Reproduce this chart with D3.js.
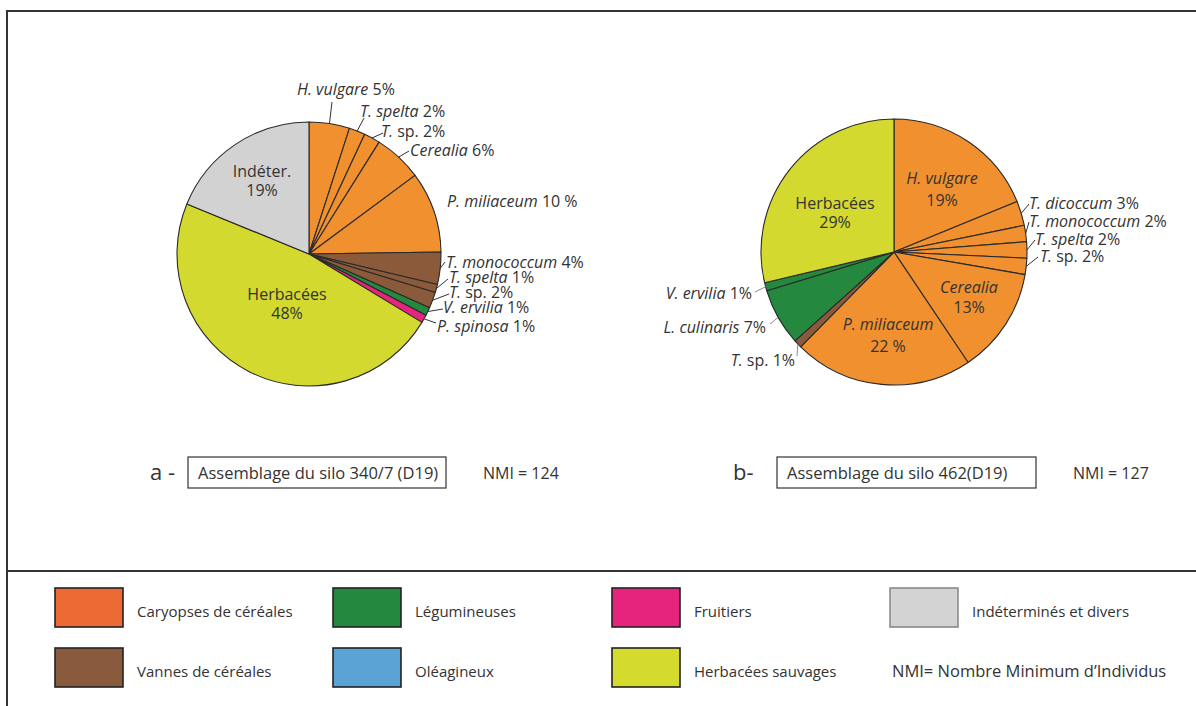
<!DOCTYPE html>
<html>
<head>
<meta charset="utf-8">
<script src="https://cdn.jsdelivr.net/npm/d3@7"></script>
<style>
  html, body { margin: 0; padding: 0; background: #fff; }
  svg { display: block; }
  text { font-family: "Open Sans", "Noto Sans", sans-serif; fill: #333; }
</style>
</head>
<body>
<svg id="chart" width="1196" height="706"></svg>
<script>
// ---- Data: silo 340/7 (D19), NMI = 124 ----
const taxaA   = ["H. vulgare", "T. spelta", "T. sp.", "Cerealia", "P. miliaceum",
                 "T. monococcum", "T. spelta", "T. sp.", "V. ervilia", "P. spinosa",
                 "Herbacées", "Indéter."];
const percentA = [5, 2, 2, 6, 10, 4, 1, 2, 1, 1, 48, 19];
const groupA   = ["car", "car", "car", "car", "car", "van", "van", "van", "leg", "fru", "herb", "ind"];
const nmiA = 124;

// ---- Data: silo 462 (D19), NMI = 127 ----
const taxaB   = ["H. vulgare", "T. dicoccum", "T. monococcum", "T. spelta", "T. sp.",
                 "Cerealia", "P. miliaceum", "T. sp.", "L. culinaris", "V. ervilia", "Herbacées"];
const percentB = [19, 3, 2, 2, 2, 13, 22, 1, 7, 1, 29];
const groupB   = ["car", "car", "car", "car", "car", "car", "car", "van", "leg", "leg", "herb"];
const nmiB = 127;

// ---- Legend ----
const legendKeys   = ["car", "van", "leg", "ole", "fru", "herb", "ind"];
const legendLabels = ["Caryopses de céréales", "Vannes de céréales", "Légumineuses", "Oléagineux",
                      "Fruitiers", "Herbacées sauvages", "Indéterminés et divers"];
const nmiNote = "NMI= Nombre Minimum d\u2019Individus";

// fills used inside the pies
const pieColor = d3.scaleOrdinal()
  .domain(["car", "van", "leg", "ole", "fru", "herb", "ind"])
  .range(["#F0902F", "#8B5A3B", "#24893F", "#5BA2D5", "#E8247F", "#D3D92F", "#D3D2D2"]);
// fills used in the key
const keyColor = d3.scaleOrdinal()
  .domain(["car", "van", "leg", "ole", "fru", "herb", "ind"])
  .range(["#EE6A35", "#8A5A3C", "#24893F", "#5BA2D5", "#E6247E", "#D4DB2C", "#D4D3D3"]);

// label placement for each slice (same order as the data)
// out: x/y = text start (or end when anchor "end"), lx/ly = leader end
// in : x = text centre, y = first baseline, y2 = second baseline
const layoutA = [
  {type: "out", x: 297, y: 95,  lx: 332, ly: 102},
  {type: "out", x: 360, y: 117, lx: 364, ly: 118},
  {type: "out", x: 381, y: 137, lx: 383, ly: 133},
  {type: "out", x: 410, y: 156, lx: 409, ly: 151},
  {type: "out", x: 447, y: 207, gap: true},
  {type: "out", x: 446, y: 268, lx: 445, ly: 262},
  {type: "out", x: 449, y: 283, lx: 448, ly: 279},
  {type: "out", x: 449, y: 298, lx: 449, ly: 294},
  {type: "out", x: 443, y: 313, lx: 443, ly: 309},
  {type: "out", x: 437, y: 332, lx: 436, ly: 323},
  {type: "in",  x: 287, y: 300, y2: 319},
  {type: "in",  x: 262, y: 177, y2: 196}
];
const layoutB = [
  {type: "in",  x: 942, y: 184, y2: 206},
  {type: "out", x: 1029, y: 209, lx: 1029, ly: 204},
  {type: "out", x: 1029, y: 227, lx: 1029, ly: 222},
  {type: "out", x: 1035, y: 245, lx: 1035, ly: 240},
  {type: "out", x: 1040, y: 262, lx: 1038, ly: 257},
  {type: "in",  x: 969, y: 293, y2: 313},
  {type: "in",  x: 888, y: 330, y2: 352, gap: true},
  {type: "out", x: 795, y: 366, lx: 797, ly: 356, anchor: "end", grey: true},
  {type: "out", x: 766, y: 333, lx: 770, ly: 324, anchor: "end", grey: true},
  {type: "out", x: 752, y: 299, lx: 755, ly: 292, anchor: "end", grey: true},
  {type: "in",  x: 835, y: 209, y2: 228}
];

const svg = d3.select("#chart");

// outer frame and separator above the key
svg.append("rect")
  .attr("x", 7).attr("y", 11).attr("width", 1200).attr("height", 710)
  .attr("fill", "none").attr("stroke", "#333").attr("stroke-width", 2);
svg.append("line")
  .attr("x1", 7).attr("x2", 1196).attr("y1", 571).attr("y2", 571)
  .attr("stroke", "#333").attr("stroke-width", 2);

const uprightNames = new Set(["Herbacées", "Indéter."]);

// species names in italics, "sp." and group names upright
function addName(textSel, name) {
  if (uprightNames.has(name)) {
    textSel.append("tspan").text(name);
  } else if (name.endsWith(" sp.")) {
    textSel.append("tspan").attr("font-style", "italic").text(name.slice(0, -4));
    textSel.append("tspan").text(" sp.");
  } else {
    textSel.append("tspan").attr("font-style", "italic").text(name);
  }
}
const pctText = (v, gap) => gap ? `${v} %` : `${v}%`;

function drawPie(cx, cy, r, taxa, values, groups, layout) {
  const g = svg.append("g");
  const pie = d3.pie().sort(null).value(d => d)
    .startAngle(0).endAngle(2 * Math.PI);
  const arcs = pie(values);
  const arc = d3.arc().innerRadius(0).outerRadius(r);

  g.append("g").attr("transform", `translate(${cx},${cy})`)
    .selectAll("path").data(arcs).join("path")
    .attr("d", arc)
    .attr("fill", (d, i) => pieColor(groups[i]))
    .attr("stroke", "#2a2a2a").attr("stroke-width", 1.1)
    .attr("stroke-linejoin", "round");

  arcs.forEach((a, i) => {
    const L = layout[i];
    const name = taxa[i], v = values[i];
    if (L.type === "in") {
      const t1 = g.append("text").attr("x", L.x).attr("y", L.y)
        .attr("text-anchor", "middle").attr("font-size", 16);
      addName(t1, name);
      g.append("text").attr("x", L.x).attr("y", L.y2)
        .attr("text-anchor", "middle").attr("font-size", 16)
        .text(pctText(v, L.gap));
    } else {
      if (L.lx !== undefined) {
        const mid = (a.startAngle + a.endAngle) / 2;
        const sx = cx + r * Math.sin(mid), sy = cy - r * Math.cos(mid);
        g.append("line")
          .attr("x1", sx).attr("y1", sy).attr("x2", L.lx).attr("y2", L.ly)
          .attr("stroke", L.grey ? "#8a8a8a" : "#333").attr("stroke-width", 1);
      }
      const t = g.append("text").attr("x", L.x).attr("y", L.y)
        .attr("text-anchor", L.anchor || "start").attr("font-size", 16);
      addName(t, name);
      t.append("tspan").text(" " + pctText(v, L.gap));
    }
  });
}

drawPie(309, 254, 132, taxaA, percentA, groupA, layoutA);
drawPie(894, 252, 133, taxaB, percentB, groupB, layoutB);

// captions under the pies
function caption(letter, lx, boxX, boxW, title, nmiX, nmi) {
  svg.append("text").attr("x", lx).attr("y", 480).attr("font-size", 22).text(letter);
  svg.append("rect").attr("x", boxX).attr("y", 457).attr("width", boxW).attr("height", 31)
    .attr("fill", "none").attr("stroke", "#333").attr("stroke-width", 1.2);
  svg.append("text").attr("x", boxX + 10).attr("y", 479).attr("font-size", 16.5).text(title);
  svg.append("text").attr("x", nmiX).attr("y", 479).attr("font-size", 16).text(`NMI = ${nmi}`);
}
caption("a -", 150, 188, 258, "Assemblage du silo 340/7 (D19)", 483, nmiA);
caption("b-", 733, 777, 259, "Assemblage du silo 462(D19)", 1073, nmiB);

// key
const colX = [55, 333, 612, 890];
const rowY = [588, 648];
const key = svg.append("g");
legendKeys.forEach((k, i) => {
  const c = Math.floor(i / 2), r = i % 2;
  key.append("rect")
    .attr("x", colX[c]).attr("y", rowY[r]).attr("width", 68).attr("height", 39)
    .attr("fill", keyColor(k))
    .attr("stroke", k === "ind" ? "#8a8a8a" : "#222").attr("stroke-width", 1.6);
  key.append("text")
    .attr("x", colX[c] + 82).attr("y", rowY[r] + 29)
    .attr("font-size", 15).text(legendLabels[i]);
});
key.append("text").attr("x", 892).attr("y", rowY[1] + 29)
  .attr("font-size", 16.5).text(nmiNote);
</script>
</body>
</html>
